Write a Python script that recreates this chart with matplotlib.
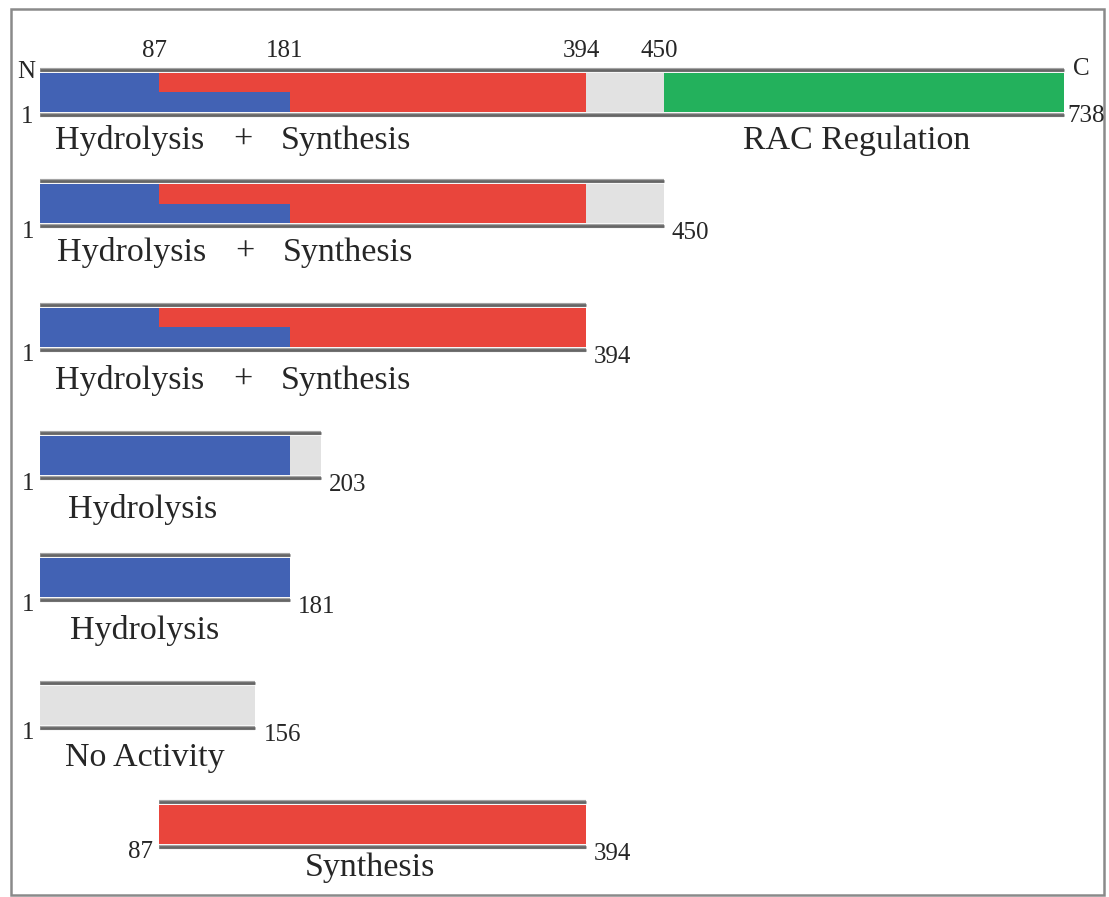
import matplotlib
matplotlib.use("Agg")
import matplotlib.pyplot as plt
from matplotlib.transforms import Affine2D
from matplotlib.patches import Rectangle

# ---------------- data ----------------
construct_starts = [1, 1, 1, 1, 1, 1, 87]
construct_ends = [738, 450, 394, 203, 181, 156, 394]

# segments per construct: (start, end, domain, part)
seg_row1 = [(1, 87, "hyd", "full"), (87, 181, "syn", "top"), (87, 181, "hyd", "bottom"),
            (181, 394, "syn", "full"), (394, 450, "none", "full"), (450, 738, "rac", "full")]
seg_row2 = [(1, 87, "hyd", "full"), (87, 181, "syn", "top"), (87, 181, "hyd", "bottom"),
            (181, 394, "syn", "full"), (394, 450, "none", "full")]
seg_row3 = [(1, 87, "hyd", "full"), (87, 181, "syn", "top"), (87, 181, "hyd", "bottom"),
            (181, 394, "syn", "full")]
seg_row4 = [(1, 181, "hyd", "full"), (181, 203, "none", "full")]
seg_row5 = [(1, 181, "hyd", "full")]
seg_row6 = [(1, 156, "none", "full")]
seg_row7 = [(87, 394, "syn", "full")]
segments = [seg_row1, seg_row2, seg_row3, seg_row4, seg_row5, seg_row6, seg_row7]

boundary_labels = [87, 181, 394, 450]

activity_labels = [
    [("Hydrolysis", "left"), ("+", "center"), ("Synthesis", "left"), ("RAC Regulation", "left")],
    [("Hydrolysis", "left"), ("+", "center"), ("Synthesis", "left")],
    [("Hydrolysis", "left"), ("+", "center"), ("Synthesis", "left")],
    [("Hydrolysis", "left")],
    [("Hydrolysis", "left")],
    [("No Activity", "left")],
    [("Synthesis", "left")],
]

# ---------------- style / layout ----------------
W, H = 1109, 897
colors = {"hyd": "#4262b4", "syn": "#e9453c", "none": "#e2e2e2", "rac": "#23b15c"}
row_centers = [92.5, 204, 327.5, 456, 577.5, 705.5, 824.5]   # pixel rows
half_gap = 22.5      # distance of the gray rails from the row centre (px)
bar_h = 39           # filled height (px)
label_x = [[55, 243, 281, 743], [57, 245, 283], [55, 243, 281], [68], [70], [65], [305]]
label_base = [149, 261, 389, 518, 639, 766, 876]

plt.rcParams["font.family"] = ["Liberation Serif", "DejaVu Serif"]
TXT = "#262626"

fig = plt.figure(figsize=(W / 100, H / 100), dpi=100)
ax = fig.add_axes([0, 0, 1, 1])
k = (738 - 1) / (1064 - 40)          # residues per pixel
ax.set_xlim(1 - 40 * k, 1 + (W - 40) * k)
ax.set_ylim(H, 0)
ax.axis("off")

# pixel (top-left origin) transform for annotations
pix = Affine2D().scale(1, -1).translate(0, H)

def res2px(r):
    return 40 + (r - 1) / k

for i, segs in enumerate(segments):
    c = row_centers[i]
    s, e = construct_starts[i], construct_ends[i]
    for (a, b, dom, part) in segs:
        if part == "full":
            ax.barh(c, b - a, left=a, height=bar_h, color=colors[dom], linewidth=0)
        elif part == "top":
            ax.barh(c - bar_h / 4, b - a, left=a, height=bar_h / 2, color=colors[dom], linewidth=0)
        else:
            ax.barh(c + bar_h / 4, b - a, left=a, height=bar_h / 2, color=colors[dom], linewidth=0)
    for yy in (c - half_gap, c + half_gap):
        ax.hlines(yy, s, e, color="#a4a4a4", lw=3.0, capstyle="butt")
        ax.hlines(yy, s, e, color="#666666", lw=1.9, capstyle="butt")

    bottom = c + half_gap
    top = c - half_gap
    x0, x1 = res2px(s), res2px(e)
    if i == 0:
        fig.text(x0 - 5, top + 8, "N", transform=pix, ha="right", va="baseline", fontsize=18, color=TXT)
        fig.text(x0 - 7, bottom + 8, str(s), transform=pix, ha="right", va="baseline", fontsize=18, color=TXT)
        fig.text(x1 + 9, top + 5, "C", transform=pix, ha="left", va="baseline", fontsize=18, color=TXT)
        fig.text(x1 + 3, bottom + 7, str(e), transform=pix, ha="left", va="baseline", fontsize=18, color=TXT)
        for bl in boundary_labels:
            fig.text(res2px(bl) - 5, 56.5, str(bl), transform=pix, ha="center", va="baseline",
                     fontsize=18, color=TXT)
    else:
        fig.text(x0 - 6, bottom + 11, str(s), transform=pix, ha="right", va="baseline", fontsize=18, color=TXT)
        fig.text(x1 + 8, bottom + 12.5, str(e), transform=pix, ha="left", va="baseline", fontsize=18, color=TXT)

    for (txt, ha), lx in zip(activity_labels[i], label_x[i]):
        fig.text(lx, label_base[i], txt, transform=pix, ha=ha, va="baseline", fontsize=24.5, color=TXT)

# outer frame
fig.patches.append(Rectangle((11, 9), 1093, 886, transform=pix, fill=False,
                             edgecolor="#8a8a8a", lw=1.8))

fig.savefig("out.png", dpi=100, facecolor="white")
